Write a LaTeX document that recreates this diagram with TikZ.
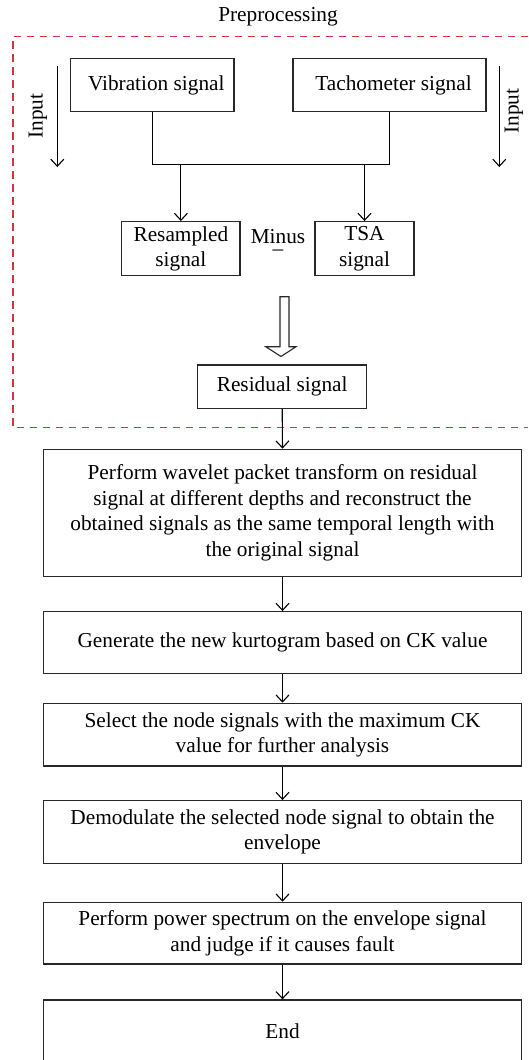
\documentclass[tikz,border=0pt]{standalone}
\usepackage{fontspec}
\setmainfont{Liberation Serif}
\usetikzlibrary{arrows.meta}
\definecolor{dashred}{RGB}{212,52,66}
\definecolor{boxline}{RGB}{40,40,40}
\begin{document}
\begin{tikzpicture}[x=1pt,y=-1pt,
  font=\fontsize{21.3}{25.5}\selectfont,
  box/.style={draw=boxline,line width=1.3pt,align=center,inner sep=0pt,
              minimum width=#1},
  conn/.style={draw=black,line width=1.1pt},
  arr/.style={conn,-{Straight Barb[length=7pt,width=13pt,line width=1.1pt]}},
  lbl/.style={inner sep=0pt}]
\useasboundingbox (0,0) rectangle (528,1060);

% preprocessing frame
\draw[dashred,line width=1.1pt,dash pattern=on 7.5pt off 5.5pt]
  (528,36.3) -- (13,36.3) -- (13,427.7) -- (528,427.7);
\node[lbl] (pre) at (278,17) {Preprocessing};

% input boxes
\node[box=163.3pt,minimum height=53.4pt] (vib) at (152.3,85) {\hspace*{8pt}Vibration signal};
\node[box=193pt,minimum height=53.4pt] (tach) at (389.5,85) {\hspace*{8pt}Tachometer signal};

% input arrows
\coordinate (inLa) at (57.3,66);
\coordinate (inLb) at (57.3,167);
\coordinate (inRa) at (499.3,66);
\coordinate (inRb) at (499.3,167);
\draw[arr] (inLa) -- (inLb);
\draw[arr] (inRa) -- (inRb);
\node[lbl,rotate=90] (inL) at (38,116) {Input};
\node[lbl,rotate=90] (inR) at (514,111) {Input};

% join
\coordinate (jl) at (152.3,164.7);
\coordinate (jr) at (389.5,164.7);
\draw[conn] (vib.south) -- (jl) -- (jr) -- (tach.south);

% resampled / TSA
\node[box=118.3pt,minimum height=54pt] (res) at (180.9,248.7) {Resampled\\signal};
\node[box=99pt,minimum height=54pt] (tsa) at (364.5,248.7) {TSA\\signal};
\draw[arr] (res.north |- jl) -- (res.north);
\draw[arr] (tsa.north |- jl) -- (tsa.north);
\node[lbl,align=center,anchor=north] (minus) at (278,229) {Minus\\[-13pt]–};

% hollow arrow
\draw[boxline,line width=1.1pt,fill=white]
  (280,296.7) -- (289,296.7) -- (289,346.7) -- (296,346.7) -- (281,356.5)
  -- (265.7,346.7) -- (280,346.7) -- cycle;

% residual
\node[box=169pt,minimum height=43.3pt] (resid) at (282.2,386.7) {Residual signal};

% main chain
\node[box=478.4pt,minimum height=127.4pt] (b1) at (282.5,513)
  {Perform wavelet packet transform on residual\\
   signal at different depths and reconstruct the\\
   obtained signals as the same temporal length with\\
   the original signal};
\node[box=478.4pt,minimum height=61.6pt] (b2) at (282.5,642.5)
  {Generate the new kurtogram based on CK value};
\node[box=478.4pt,minimum height=62.7pt] (b3) at (282.5,734.7)
  {Select the node signals with the maximum CK\\value for further analysis};
\node[box=478.4pt,minimum height=62.6pt] (b4) at (282.5,832)
  {Demodulate the selected node signal to obtain the\\envelope};
\node[box=478.4pt,minimum height=61.7pt] (b5) at (282.5,933.2)
  {Perform power spectrum on the envelope signal\\and judge if it causes fault};
\node[box=478.4pt,minimum height=63.4pt] (b6) at (282.5,1031.7) {End};

\draw[arr] (resid.south) -- (b1.north);
\draw[arr] (b1.south) -- (b2.north);
\draw[arr] (b2.south) -- (b3.north);
\draw[arr] (b3.south) -- (b4.north);
\draw[arr] (b4.south) -- (b5.north);
\draw[arr] (b5.south) -- (b6.north);
\end{tikzpicture}
\end{document}
